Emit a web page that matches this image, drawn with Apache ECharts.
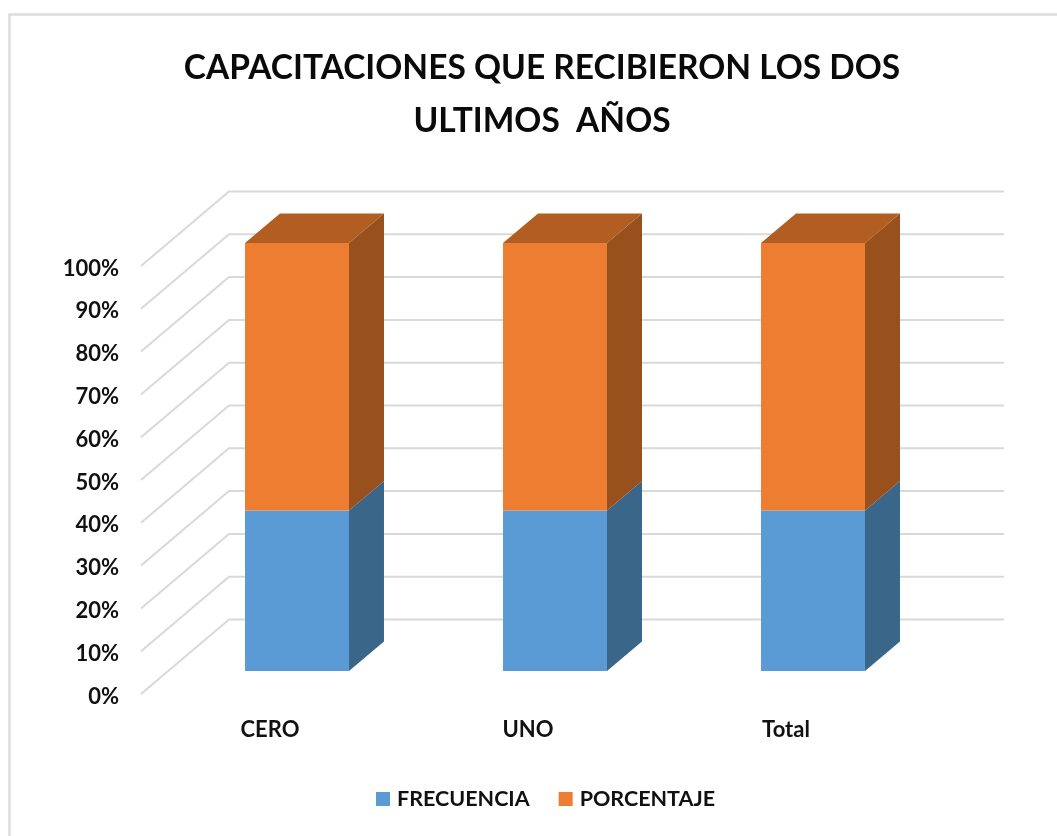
<!DOCTYPE html>
<html>
<head>
<meta charset="utf-8">
<style>html,body{margin:0;padding:0;background:#fff}#c{width:1057px;height:836px}</style>
<script src="https://cdn.jsdelivr.net/npm/echarts@6/dist/echarts.min.js"></script>
</head>
<body>
<div id="c"></div>
<script>
var titleText = 'CAPACITACIONES QUE RECIBIERON LOS DOS\nULTIMOS  AÑOS';
var categories = ['CERO', 'UNO', 'Total'];
var frecuencia = [37.5, 37.5, 37.5];
var porcentaje = [62.5, 62.5, 62.5];
var ticks = [0, 10, 20, 30, 40, 50, 60, 70, 80, 90, 100];

var FONT = 'Lato';
var WALL = [88, -74.5];      // floor depth of the chart box
var BAR_OFFSET = [27, -23];  // front face of the bars inside the box
var BAR_DEPTH = [35, -29.5]; // depth of each bar
var GRID_COLOR = '#D9D9D9';

function poly(pts, color) {
  return { type: 'polygon', shape: { points: pts }, style: { fill: color } };
}

function wallItem(params, api) {
  var cs = params.coordSys;
  var y = api.coord([0, api.value(1)])[1];
  var x0 = cs.x;
  return {
    type: 'polyline',
    shape: { points: [[x0, y], [x0 + WALL[0], y + WALL[1]], [x0 + WALL[0] + cs.width + 1, y + WALL[1]]] },
    style: { stroke: GRID_COLOR, lineWidth: 2, fill: null }
  };
}

function barRenderer(front, side, top) {
  return function (params, api) {
    var i = api.value(0);
    var a = api.coord([i, api.value(1)]);
    var b = api.coord([i, api.value(2)]);
    var w = api.size([1, 0])[0] * 0.403;
    var xl = a[0] - w / 2 + BAR_OFFSET[0];
    var xr = xl + w;
    var y0 = a[1] + BAR_OFFSET[1];
    var y1 = b[1] + BAR_OFFSET[1];
    var dx = BAR_DEPTH[0], dy = BAR_DEPTH[1];
    var kids = [
      poly([[xl, y0], [xr, y0], [xr, y1], [xl, y1]], front),
      poly([[xr, y0], [xr + dx, y0 + dy], [xr + dx, y1 + dy], [xr, y1]], side)
    ];
    if (api.value(2) >= 100) {
      kids.push(poly([[xl, y1], [xr, y1], [xr + dx, y1 + dy], [xl + dx, y1 + dy]], top));
    }
    return { type: 'group', children: kids };
  };
}

var chart = echarts.init(document.getElementById('c'), null, { renderer: 'canvas' });
chart.setOption({
  animation: false,
  backgroundColor: '#ffffff',
  graphic: [
    { type: 'polyline', silent: true,
      shape: { points: [[9.5, 836], [9.5, 14.5], [1057, 14.5]] },
      style: { stroke: '#DDDDDD', lineWidth: 2.5, fill: null } }
  ],
  title: {
    text: titleText, left: 537, top: 37, textAlign: 'center',
    textStyle: { fontFamily: FONT, fontWeight: 'bold', fontSize: 33.5, lineHeight: 53, color: '#0a0a0a' }
  },
  legend: {
    data: ['FRECUENCIA', 'PORCENTAJE'],
    left: 371, top: 783, itemWidth: 14, itemHeight: 14, itemGap: 29,
    icon: 'rect',
    textStyle: { fontFamily: FONT, fontWeight: 'bold', fontSize: 21.5, color: '#111', padding: [-4, 0, 0, 2] }
  },
  grid: { left: 141, top: 266, width: 774, height: 428 },
  xAxis: {
    type: 'category', data: categories,
    axisLine: { show: false }, axisTick: { show: false },
    axisLabel: { margin: 25, fontFamily: FONT, fontWeight: 'bold', fontSize: 22, color: '#111' }
  },
  yAxis: {
    type: 'value', min: 0, max: 100, interval: 10,
    axisLine: { show: false }, axisTick: { show: false }, splitLine: { show: false },
    axisLabel: { margin: 22, verticalAlign: 'top', lineHeight: 5, formatter: '{value}%', fontFamily: FONT, fontWeight: 'bold', fontSize: 22, color: '#111' }
  },
  series: [
    { type: 'custom', name: 'grid', silent: true, z: 1, renderItem: wallItem,
      data: ticks.map(function (t) { return [0, t]; }) },
    { type: 'custom', name: 'FRECUENCIA', z: 2, itemStyle: { color: '#5B9BD5' },
      renderItem: barRenderer('#5B9BD5', '#3A6689', '#4A7FAF'),
      data: categories.map(function (c, i) { return [i, 0, frecuencia[i]]; }) },
    { type: 'custom', name: 'PORCENTAJE', z: 3, itemStyle: { color: '#ED7D31' },
      renderItem: barRenderer('#ED7D31', '#98501C', '#B25D22'),
      data: categories.map(function (c, i) { return [i, frecuencia[i], frecuencia[i] + porcentaje[i]]; }) }
  ]
});
</script>
</body>
</html>
